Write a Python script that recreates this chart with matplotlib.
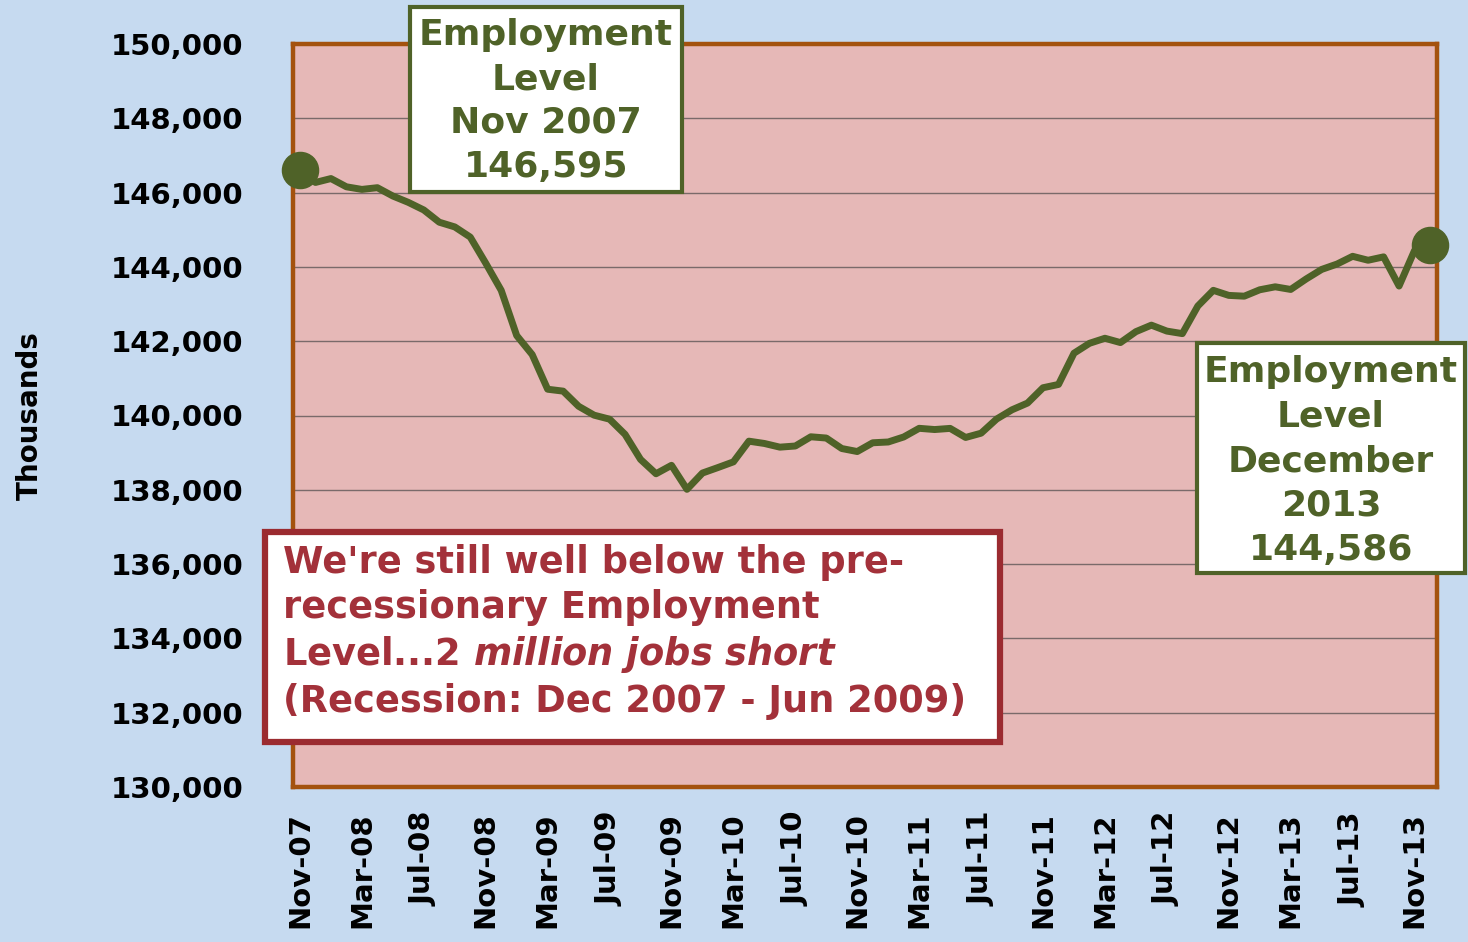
import numpy as np
import matplotlib
matplotlib.use("Agg")
import matplotlib.pyplot as plt
from matplotlib.patches import Rectangle

# employment level, thousands, Nov 2007 .. Dec 2013 (monthly)
employment = [
    146595, 146273,
    146378, 146156, 146086, 146132, 145908, 145737, 145532, 145203, 145076, 144802, 144100, 143369,
    142152, 141640, 140707, 140656, 140248, 140009, 139901, 139492, 138818, 138432, 138659, 138013,
    138451, 138599, 138752, 139309, 139247, 139148, 139179, 139427, 139393, 139111, 139030, 139266,
    139287, 139422, 139655, 139622, 139653, 139409, 139524, 139904, 140154, 140335, 140747, 140836,
    141677, 141943, 142079, 141963, 142257, 142432, 142272, 142204, 142947, 143369, 143233, 143212,
    143384, 143464, 143393, 143676, 143932, 144078, 144285, 144179, 144270, 143485, 144443, 144586,
]
tick_labels = ["Nov-07", "Mar-08", "Jul-08", "Nov-08", "Mar-09", "Jul-09", "Nov-09",
               "Mar-10", "Jul-10", "Nov-10", "Mar-11", "Jul-11", "Nov-11", "Mar-12",
               "Jul-12", "Nov-12", "Mar-13", "Jul-13", "Nov-13"]
y_ticks = list(range(130000, 150001, 2000))

olive = "#4F6228"
bg_blue = "#C6DAF0"
pink = "#E6B8B7"
border = "#A4520E"
red_txt = "#A3313A"

plt.rcParams["font.family"] = "DejaVu Sans"
plt.rcParams["mathtext.fontset"] = "custom"
plt.rcParams["mathtext.rm"] = "DejaVu Sans:bold"
plt.rcParams["mathtext.it"] = "DejaVu Sans:italic:bold"

fig = plt.figure(figsize=(14.68, 9.42), dpi=100)
fig.patch.set_facecolor(bg_blue)
ax = fig.add_axes([293 / 1468, 1 - 787 / 942, 1144 / 1468, 743 / 942])
ax.set_facecolor(pink)

x = np.arange(len(employment))
ax.plot(x, employment, color=olive, lw=5, solid_joinstyle="round", zorder=3)
# end points
ax.plot([x[0], x[-1]], [employment[0], employment[-1]], "o", color=olive, ms=26,
        clip_on=False, zorder=4)

ax.set_ylim(130000, 150000)
ax.set_xlim(-0.45, len(employment) - 1 + 0.45)
ax.set_yticks(y_ticks)
ax.set_yticklabels([f"{v:,}" for v in y_ticks], fontsize=21, fontweight="bold")
ax.set_xticks(x[::4])
ax.set_xticklabels(tick_labels, rotation=90, fontsize=21, fontweight="bold")
ax.tick_params(axis="y", length=0, pad=36)
ax.tick_params(axis="x", length=0, pad=18)
ax.yaxis.grid(True, color="#7A6A6A", lw=1.0)
ax.set_axisbelow(True)
for s in ax.spines.values():
    s.set_color(border)
    s.set_linewidth(3.2)
ax.set_ylabel("Thousands", fontsize=20, fontweight="bold")
ax.yaxis.set_label_coords(-0.218, 0.5)


def box(px0, py0, px1, py1, edge, lw):
    r = Rectangle((px0 / 1468, 1 - py1 / 942), (px1 - px0) / 1468, (py1 - py0) / 942,
                  transform=fig.transFigure, facecolor="white", edgecolor=edge,
                  lw=lw, zorder=5)
    fig.add_artist(r)


box(410, 7, 682, 192, olive, 3)
fig.text(546 / 1468, 1 - 101 / 942, "Employment\nLevel\nNov 2007\n146,595",
         ha="center", va="center", fontsize=26, fontweight="bold", color=olive,
         linespacing=1.36, zorder=6)

box(1197, 343, 1465, 573, olive, 3)
fig.text(1331 / 1468, 1 - 461 / 942, "Employment\nLevel\nDecember\n2013\n144,586",
         ha="center", va="center", fontsize=26, fontweight="bold", color=olive,
         linespacing=1.38, zorder=6)

box(265, 532, 1000, 742, "#9B2B30", 4.5)
fig.text(283 / 1468, 1 - 632 / 942,
         "We're still well below the pre-\nrecessionary Employment\n"
         r"Level...$\mathit{2\ million\ jobs\ short}$" "\n(Recession: Dec 2007 - Jun 2009)",
         ha="left", va="center", fontsize=26.5, fontweight="bold", color=red_txt,
         linespacing=1.27, zorder=6)

fig.savefig("out.png", dpi=100, facecolor=fig.get_facecolor())
